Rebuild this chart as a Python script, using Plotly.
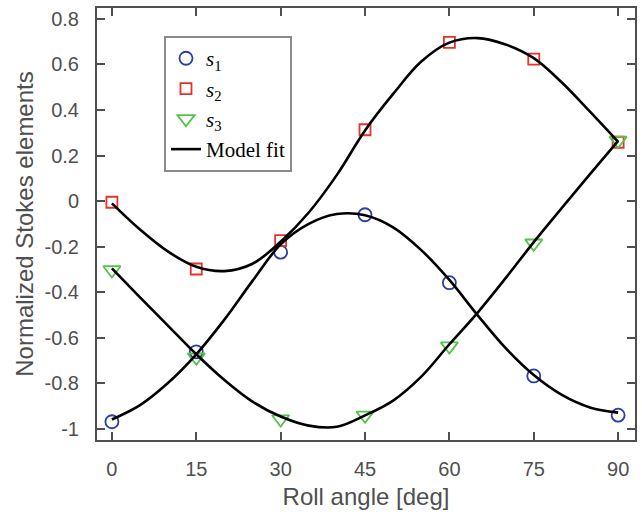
import plotly.graph_objects as go

# ---------------- data ----------------
angles = [0, 15, 30, 45, 60, 75, 90]
s1 = [-0.968, -0.661, -0.224, -0.060, -0.358, -0.767, -0.939]
s2 = [-0.005, -0.298, -0.173, 0.313, 0.696, 0.623, 0.258]
s3 = [-0.302, -0.685, -0.956, -0.940, -0.636, -0.185, 0.266]

fit_angles = [0, 5, 10, 15, 20, 25, 30, 35, 40, 45, 50, 55, 60, 65, 70, 75, 80, 85, 90]
fit_s1 = [-0.958, -0.895, -0.797, -0.672, -0.520, -0.350, -0.190, -0.100, -0.057, -0.062,
          -0.115, -0.215, -0.346, -0.500, -0.645, -0.763, -0.850, -0.905, -0.928]
fit_s2 = [-0.010, -0.125, -0.222, -0.288, -0.307, -0.275, -0.178, -0.050, 0.115, 0.310,
          0.470, 0.612, 0.695, 0.715, 0.687, 0.627, 0.520, 0.392, 0.260]
fit_s3 = [-0.295, -0.422, -0.547, -0.672, -0.785, -0.880, -0.945, -0.985, -0.990, -0.940,
          -0.875, -0.770, -0.628, -0.490, -0.338, -0.180, -0.030, 0.118, 0.264]

x_ticks = [0, 15, 30, 45, 60, 75, 90]
x_ticktext = ["0", "15", "30", "45", "60", "75", "90"]
y_ticks = [-1, -0.8, -0.6, -0.4, -0.2, 0, 0.2, 0.4, 0.6, 0.8]
y_ticktext = ["-1", "-0.8", "-0.6", "-0.4", "-0.2", "0", "0.2", "0.4", "0.6", "0.8"]

names = ["<i>s</i><sub>1</sub>", "<i>s</i><sub>2</sub>", "<i>s</i><sub>3</sub>"]
fit_name = "Model fit"

# ---------------- style ----------------
C_BLUE = "#2b3ea3"
C_RED = "#e5332a"
C_GREEN = "#55c24a"
AX = "#4f4f4f"

fig = go.Figure()

marker_specs = [
    (s1, names[0], "circle-open", C_BLUE, 13),
    (s2, names[1], "square-open", C_RED, 11),
    (s3, names[2], "triangle-down-open", C_GREEN, 15),
]
for vals, nm, sym, col, sz in marker_specs:
    fig.add_trace(go.Scatter(
        x=angles, y=vals, mode="markers", name=nm,
        marker=dict(symbol=sym, size=sz, color=col, line=dict(color=col, width=1.8)),
    ))

for i, fv in enumerate([fit_s1, fit_s2, fit_s3]):
    fig.add_trace(go.Scatter(
        x=fit_angles, y=fv, mode="lines", name=fit_name,
        line=dict(color="black", width=2.6, shape="spline", smoothing=1.0),
        showlegend=(i == 0),
    ))

fig.update_layout(
    width=642, height=515,
    margin=dict(l=97, r=7, t=8, b=75),
    paper_bgcolor="white", plot_bgcolor="white",
    font=dict(family="Liberation Sans, Arial, sans-serif", color=AX),
    legend=dict(
        x=0.1245, y=0.935, xanchor="left", yanchor="top",
        bgcolor="white", bordercolor="#8a8a8a", borderwidth=2,
        font=dict(family="Liberation Serif, Times New Roman, serif", size=21, color="black"),
        tracegroupgap=0, itemwidth=30,
    ),
    showlegend=True,
)

fig.update_xaxes(
    range=[-2.65, 93], tickmode="array", tickvals=x_ticks, ticktext=x_ticktext,
    showline=True, linecolor=AX, linewidth=2, mirror="ticks",
    ticks="inside", ticklen=8, tickwidth=2, tickcolor=AX,
    showgrid=False, zeroline=False,
    tickfont=dict(size=20, color=AX),
    title=dict(text="Roll angle [deg]", font=dict(size=24, color=AX), standoff=9),
    ticklabelstandoff=10, automargin=False,
)
fig.update_yaxes(
    range=[-1.048, 0.847], tickmode="array", tickvals=y_ticks, ticktext=y_ticktext,
    showline=True, linecolor=AX, linewidth=2, mirror="ticks",
    ticks="inside", ticklen=8, tickwidth=2, tickcolor=AX,
    showgrid=False, zeroline=False,
    tickfont=dict(size=20, color=AX),
    title=dict(text="Normalized Stokes elements", font=dict(size=24, color=AX), standoff=4),
    ticklabelstandoff=12, automargin=False,
)

fig.write_html("out.html")
